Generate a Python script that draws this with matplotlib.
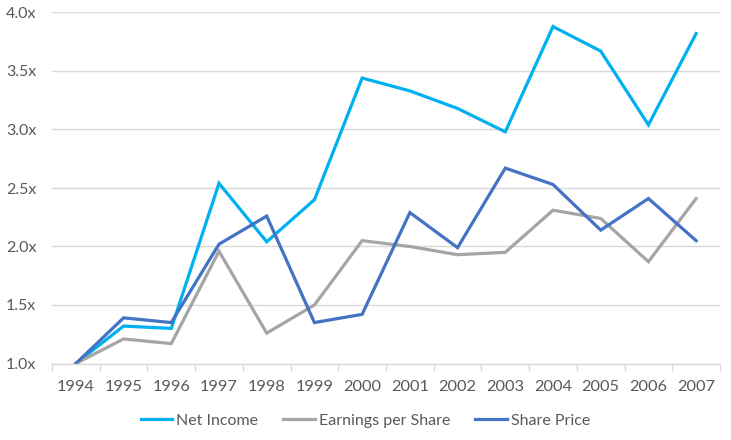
import matplotlib
matplotlib.use("Agg")
import matplotlib.pyplot as plt
import numpy as np

years = ["1994","1995","1996","1997","1998","1999","2000","2001","2002","2003","2004","2005","2006","2007"]
net_income = [1.00,1.32,1.30,2.54,2.04,2.40,3.44,3.33,3.18,2.98,3.88,3.67,3.04,3.82]
eps = [1.00,1.21,1.17,1.96,1.26,1.50,2.05,2.00,1.93,1.95,2.31,2.24,1.87,2.41]
share_price = [1.00,1.39,1.35,2.02,2.26,1.35,1.42,2.29,1.99,2.67,2.53,2.14,2.41,2.05]
yticks = [1.0,1.5,2.0,2.5,3.0,3.5,4.0]

plt.rcParams['font.family'] = ['Lato', 'DejaVu Sans']
fig = plt.figure(figsize=(7.31,4.40), dpi=100)
W, H = 731, 440
ax = fig.add_axes([52/W, (H-363.5)/H, (720-52)/W, (363.5-12.5)/H])

x = np.arange(len(years))
ax.plot(x, net_income, color="#00B0F0", lw=2.3, label="Net Income", solid_joinstyle="miter")
ax.plot(x, eps, color="#A5A5A5", lw=2.3, label="Earnings per Share", solid_joinstyle="miter")
ax.plot(x, share_price, color="#4472C4", lw=2.3, label="Share Price", solid_joinstyle="miter")

ax.set_xlim(-0.5, len(years)-0.5)
ax.set_ylim(1.0, 4.0)
ax.set_yticks(yticks)
ax.set_yticklabels([f"{v:.1f}x" for v in yticks])
ax.set_xticks(x)
ax.set_xticklabels(years)
ax.set_xticks(np.arange(-0.5, len(years)), minor=True)
ax.tick_params(axis='x', which='major', length=0, pad=12, labelsize=11.8, labelcolor="#595959")
ax.tick_params(axis='x', which='minor', length=5, color="#D9D9D9", width=1)
ax.tick_params(axis='y', length=0, pad=0, labelsize=11.5, labelcolor="#595959")
for lab in ax.get_yticklabels():
    lab.set_horizontalalignment('left')
    lab.set_x(-46/668)
ax.grid(axis='y', color="#D9D9D9", lw=1)
ax.set_axisbelow(True)
for s in ['top','right','left']:
    ax.spines[s].set_visible(False)
ax.spines['bottom'].set_color("#D9D9D9")
ax.spines['bottom'].set_linewidth(1)

leg = fig.legend(loc='center', bbox_to_anchor=(0.5, (H-420.5)/H), ncol=3, frameon=False,
                 fontsize=11.5, handlelength=2.0, handletextpad=0.25, columnspacing=1.55)
for t in leg.get_texts():
    t.set_color("#595959")

fig.savefig("out.png", dpi=100)
